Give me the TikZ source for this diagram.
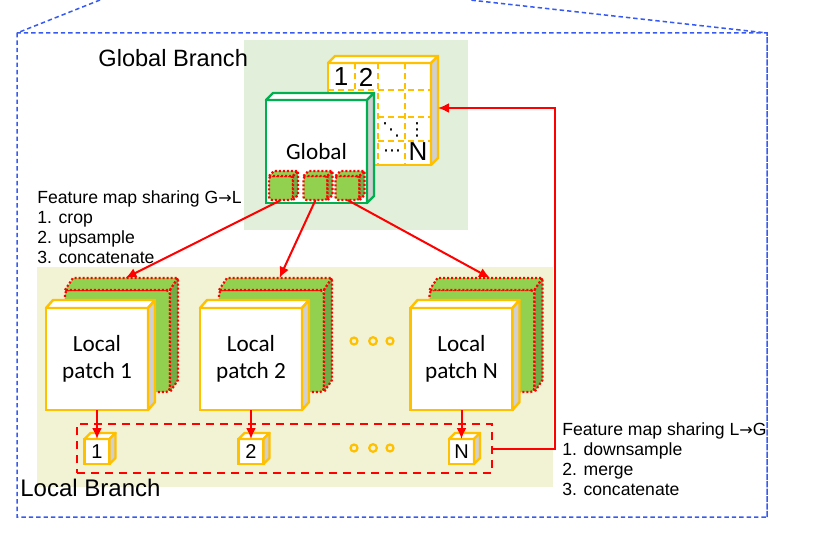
\documentclass[tikz,border=0pt]{standalone}
\usepackage{fontspec}
\setmainfont{Liberation Sans}
\newfontfamily\calibri{Carlito}
\newfontfamily\markfont{DejaVu Sans}
\usetikzlibrary{
    arrows.meta,
    calc,
    positioning
}

\definecolor{gold}{RGB}{255,192,0}
\definecolor{kgreen}{RGB}{0,176,80}
\definecolor{lgreen}{RGB}{146,208,80}
\definecolor{dgreen}{RGB}{112,173,71}
\definecolor{globalbg}{RGB}{226,239,218}
\definecolor{localbg}{RGB}{242,242,212}
\definecolor{sidegray}{RGB}{208,208,208}
\definecolor{frameblue}{RGB}{55,90,240}

% top and side face of a box drawn behind a front node
\newcommand{\boxfaces}[5]{%
  \draw[#4] (#1.north west) -- ++(#2,#3)
    -- ([shift={(#2,#3)}]#1.north east) -- (#1.north east) -- cycle;
  \draw[#5] (#1.north east) -- ++(#2,#3)
    -- ([shift={(#2,#3)}]#1.south east) -- (#1.south east) -- cycle;
}
\newcommand{\toarrow}{{\markfont\fontsize{8}{10}\selectfont→}}

\tikzset{
  redline/.style={draw=red, line width=1.1pt, dash pattern=on 1pt off 1pt},
  goldface/.style={draw=gold, line width=1.2pt, line join=round},
  greenface/.style={draw=kgreen, line width=1.2pt, line join=round},
  patchbox/.style={
    draw=gold, fill=white, line width=1.2pt, outer sep=0pt, inner sep=0pt,
    minimum width=51pt, minimum height=51pt, align=center,
    font=\calibri\fontsize{11.6}{13.5}\selectfont
  },
  featbox/.style={
    redline, fill=lgreen, rounded corners=2pt, outer sep=0pt,
    minimum width=52.5pt, minimum height=51pt
  },
  cubelet/.style={
    draw=gold, fill=white, line width=1.2pt, outer sep=0pt, inner sep=0pt,
    minimum size=12.5pt, font=\fontsize{10}{10}\selectfont
  },
  gcubelet/.style={
    redline, fill=lgreen, rounded corners=1.5pt, outer sep=0pt,
    minimum size=12pt
  },
  gridmark/.style={inner sep=0pt, font=\fontsize{13}{13}\selectfont},
  dotmark/.style={inner sep=0pt, font=\markfont\fontsize{9}{9}\selectfont},
  share/.style={draw=red, line width=1pt, -{Latex[length=5.5pt,width=5pt]}},
  dotring/.style={draw=gold, line width=1.1pt}
}

\begin{document}
\begin{tikzpicture}[x=0.5pt, y=-0.5pt]

  \useasboundingbox (0,0) rectangle (814,535);

  % frame {{{
  \draw[frameblue, line width=0.75pt, dash pattern=on 2.2pt off 1.5pt]
    (100,0) -- (17,33) rectangle (767,517) -- (767,33) -- (470,0);
  % }}}

  % panels {{{
  \fill[globalbg] (244,40) rectangle (468,230);
  \fill[localbg] (37,267) rectangle (553,487);
  % }}}

  % global branch {{{
  \node[
    patchbox,
    minimum width=51.5pt
  ] (grid) at (379.5,114) {};
  \boxfaces{grid}{7}{-7}{goldface, fill=white}{goldface, fill=sidegray}
  \draw[draw=gold, line width=1pt, dash pattern=on 3pt off 2pt]
    (355,63) -- (355,90)
    (378,63) -- (378,165)
    (405,63) -- (405,165)
    (328,90) -- (431,90)
    (328,117) -- (431,117)
    (328,141) -- (431,141);
  \node[gridmark] (g1) at (341,77) {1};
  \node[gridmark] (g2) at (366,77) {2};
  \node[dotmark] (gdd) at (391,130) {⋱};
  \node[dotmark] (gvd) at (417,130) {⋮};
  \node[dotmark] (gcd) at (392,153) {⋯};
  \node[gridmark, anchor=base] (gN) at (418,161) {N};

  \node[
    patchbox,
    draw=kgreen,
    minimum width=50.5pt,
    minimum height=51.5pt
  ] (glob) at (316.5,151.5) {Global};
  \boxfaces{glob}{7}{-7}{greenface, fill=white}{greenface, fill=sidegray}

  \node[gcubelet] (gs1) at (281,188) {};
  \boxfaces{gs1}{5}{-5}{redline, fill=lgreen}{redline, fill=dgreen}
  \node[gcubelet] (gs2) at (315.5,188) {};
  \boxfaces{gs2}{5}{-5}{redline, fill=lgreen}{redline, fill=dgreen}
  \node[gcubelet] (gs3) at (347.5,188) {};
  \boxfaces{gs3}{5}{-5}{redline, fill=lgreen}{redline, fill=dgreen}
  % }}}

  % local branch {{{
  \node[featbox] (feat1) at (117.5,341) {};
  \boxfaces{feat1}{8}{-12}{redline, fill=lgreen}{redline, fill=dgreen}
  \node[patchbox] (p1) at (97,359) {Local\\patch 1};
  \boxfaces{p1}{7}{-8}{goldface, fill=white}{goldface, fill=sidegray}

  \node[featbox] (feat2) at (271.5,341) {};
  \boxfaces{feat2}{8}{-12}{redline, fill=lgreen}{redline, fill=dgreen}
  \node[patchbox] (p2) at (251,359) {Local\\patch 2};
  \boxfaces{p2}{7}{-8}{goldface, fill=white}{goldface, fill=sidegray}

  \node[featbox] (featN) at (482,341) {};
  \boxfaces{featN}{8}{-12}{redline, fill=lgreen}{redline, fill=dgreen}
  \node[patchbox] (pN) at (461.5,359) {Local\\patch N};
  \boxfaces{pN}{7}{-8}{goldface, fill=white}{goldface, fill=sidegray}

  \draw[dotring] (354,341) circle[radius=1.75pt]
    (373,341) circle[radius=1.9pt] (390,341) circle[radius=1.75pt];

  \node[
    draw=red,
    line width=1.2pt,
    dash pattern=on 4pt off 3pt,
    minimum width=207.5pt,
    minimum height=24.5pt
  ] (sharebox) at (284.5,448.5) {};

  \node[cubelet] (c1) at (97,451.5) {1};
  \boxfaces{c1}{6}{-6}{goldface, fill=white}{goldface, fill=sidegray}
  \node[cubelet] (c2) at (251,451.5) {2};
  \boxfaces{c2}{6}{-6}{goldface, fill=white}{goldface, fill=sidegray}
  \node[cubelet] (cN) at (461.5,451.5) {N};
  \boxfaces{cN}{6}{-6}{goldface, fill=white}{goldface, fill=sidegray}

  \draw[dotring] (354,448) circle[radius=1.75pt]
    (373,448) circle[radius=1.9pt] (390,448) circle[radius=1.75pt];
  % }}}

  % labels {{{
  \node[anchor=base west, inner sep=0pt, font=\fontsize{11.8}{14}\selectfont]
    (gtitle) at (98,67) {Global Branch};
  \node[anchor=base west, inner sep=0pt, font=\fontsize{12}{14}\selectfont]
    (ltitle) at (20,496) {Local Branch};
  \node[
    anchor=north west,
    align=left,
    inner sep=0pt,
    font=\fontsize{8.8}{10}\selectfont
  ] (gtol) at (37,190)
  {Feature map sharing G\toarrow L\\1. crop\\2. upsample\\3. concatenate};
  \node[
    anchor=north west,
    align=left,
    inner sep=0pt,
    font=\fontsize{8.8}{10}\selectfont
  ] (ltog) at (562,422)
  {Feature map sharing L\toarrow G\\1. downsample\\2. merge\\3. concatenate};
  % }}}

  % connectors {{{
  \coordinate (feat1in) at ([shift={(8,-12)}]feat1.north);
  \coordinate (feat2in) at ([shift={(8,-12)}]feat2.north);
  \coordinate (featNin) at ([shift={(8,-12)}]featN.north);
  \coordinate (gridin) at ([shift={(7,-6)}]grid.east);

  \draw[share] (gs1.south) -- (feat1in);
  \draw[share] (gs2.south) -- (feat2in);
  \draw[share] (gs3.south) -- (featNin);

  \draw[share] (p1.south) -- (c1.north);
  \draw[share] (p2.south) -- (c2.north);
  \draw[share] (pN.south) -- (cN.north);

  \draw[share] (sharebox.east) -- ++(62,0) |- (gridin);
  % }}}

\end{tikzpicture}
\end{document}
